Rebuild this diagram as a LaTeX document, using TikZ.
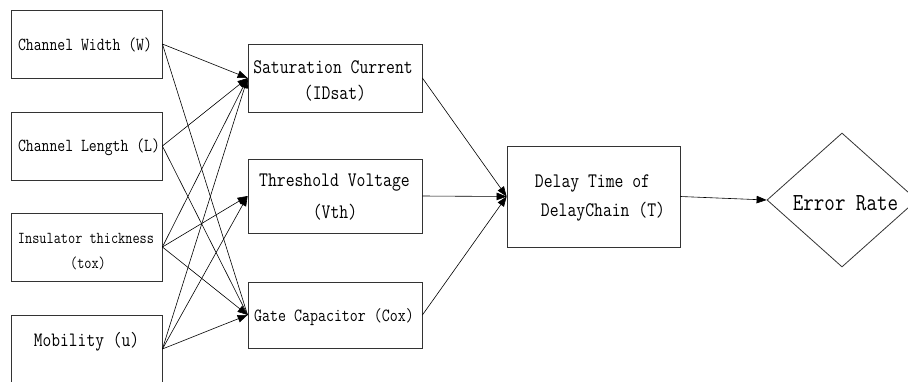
\documentclass[tikz,border=0pt]{standalone}
\usetikzlibrary{arrows.meta,shapes.geometric}
\newcommand{\tallt}[1]{\scalebox{1}[1.2]{#1}}
\begin{document}
\begin{tikzpicture}[x=1pt,y=-1pt,
  box/.style={draw=black!80,line width=0.8pt,inner sep=0pt,anchor=center},
  lbl/.style={inner sep=0pt,anchor=center,font=\ttfamily},
  link/.style={draw=black,line width=0.6pt,-{Triangle[length=10pt,width=7.5pt]}},
  plain/.style={draw=black,line width=0.6pt}]
\useasboundingbox (0,0) rectangle (908,381);
\clip (0,0) rectangle (908,381);
% left column
\node[box,minimum width=151pt,minimum height=68pt] (W) at (86.5,44) {};
\node[box,minimum width=151pt,minimum height=68pt] (L) at (86.5,146) {};
\node[box,minimum width=151pt,minimum height=68pt] (tox) at (86.5,247) {};
\node[box,minimum width=151pt,minimum height=68pt] (u) at (86.5,349) {};
\node[lbl,font=\ttfamily\fontsize{15.3}{18}\selectfont] (tW) at (85,45) {\tallt{Channel Width (W)}};
\node[lbl,font=\ttfamily\fontsize{15.3}{18}\selectfont] (tL) at (89,147) {\tallt{Channel Length (L)}};
\node[lbl,font=\ttfamily\fontsize{13.9}{17}\selectfont] (ttox1) at (86,238) {\tallt{Insulator thickness}};
\node[lbl,font=\ttfamily\fontsize{13.9}{17}\selectfont] (ttox2) at (88,263) {\tallt{(tox)}};
\node[lbl,font=\ttfamily\fontsize{17}{20}\selectfont] (tu) at (86.5,342) {\tallt{Mobility (u)}};
% middle column
\node[box,minimum width=174pt,minimum height=68pt] (sat) at (335,78) {};
\node[box,minimum width=174pt,minimum height=74pt] (vth) at (335,196) {};
\node[box,minimum width=174pt,minimum height=66pt] (cox) at (335,315) {};
\node[lbl,font=\ttfamily\fontsize{17.2}{20}\selectfont] (tsat1) at (333,67) {\tallt{Saturation Current}};
\node[lbl,font=\ttfamily\fontsize{17.2}{20}\selectfont] (tsat2) at (335,93) {\tallt{(IDsat)}};
\node[lbl,font=\ttfamily\fontsize{17.2}{20}\selectfont] (tvth1) at (334.5,183) {\tallt{Threshold Voltage}};
\node[lbl,font=\ttfamily\fontsize{17.2}{20}\selectfont] (tvth2) at (335,212) {\tallt{(Vth)}};
\node[lbl,font=\ttfamily\fontsize{15.5}{18}\selectfont] (tcox) at (334,317) {\tallt{Gate Capacitor (Cox)}};
% delay
\node[box,minimum width=173pt,minimum height=101pt] (T) at (593.5,196.5) {};
\node[lbl,font=\ttfamily\fontsize{17.2}{20}\selectfont] (tT1) at (592.5,183) {\tallt{Delay Time of}};
\node[lbl,font=\ttfamily\fontsize{17.2}{20}\selectfont] (tT2) at (603,212) {\tallt{DelayChain (T)}};
% error rate
\node[draw=black!80,line width=0.8pt,shape=diamond,inner sep=0pt,minimum width=150pt,minimum height=134pt] (er) at (842,200) {};
\node[lbl,font=\ttfamily\fontsize{20.4}{24}\selectfont] (ter) at (845.5,203) {\tallt{Error Rate}};
% connectors
\draw[link] (W.east) -- (sat.west);
\draw[plain] (W.east) -- (cox.west);
\draw[link] (L.east) -- (sat.west);
\draw[plain] (L.east) -- (cox.west);
\draw[link] (tox.east) -- (sat.west);
\draw[link] (tox.east) -- (vth.west);
\draw[link] (tox.east) -- (cox.west);
\draw[link] (u.east) -- (sat.west);
\draw[link] (u.east) -- (vth.west);
\draw[link] (u.east) -- (cox.west);
\draw[link] (sat.east) -- (T.west);
\draw[link] (vth.east) -- (T.west);
\draw[link] (cox.east) -- (T.west);
\draw[link] (T.east) -- (er.west);
\end{tikzpicture}
\end{document}
